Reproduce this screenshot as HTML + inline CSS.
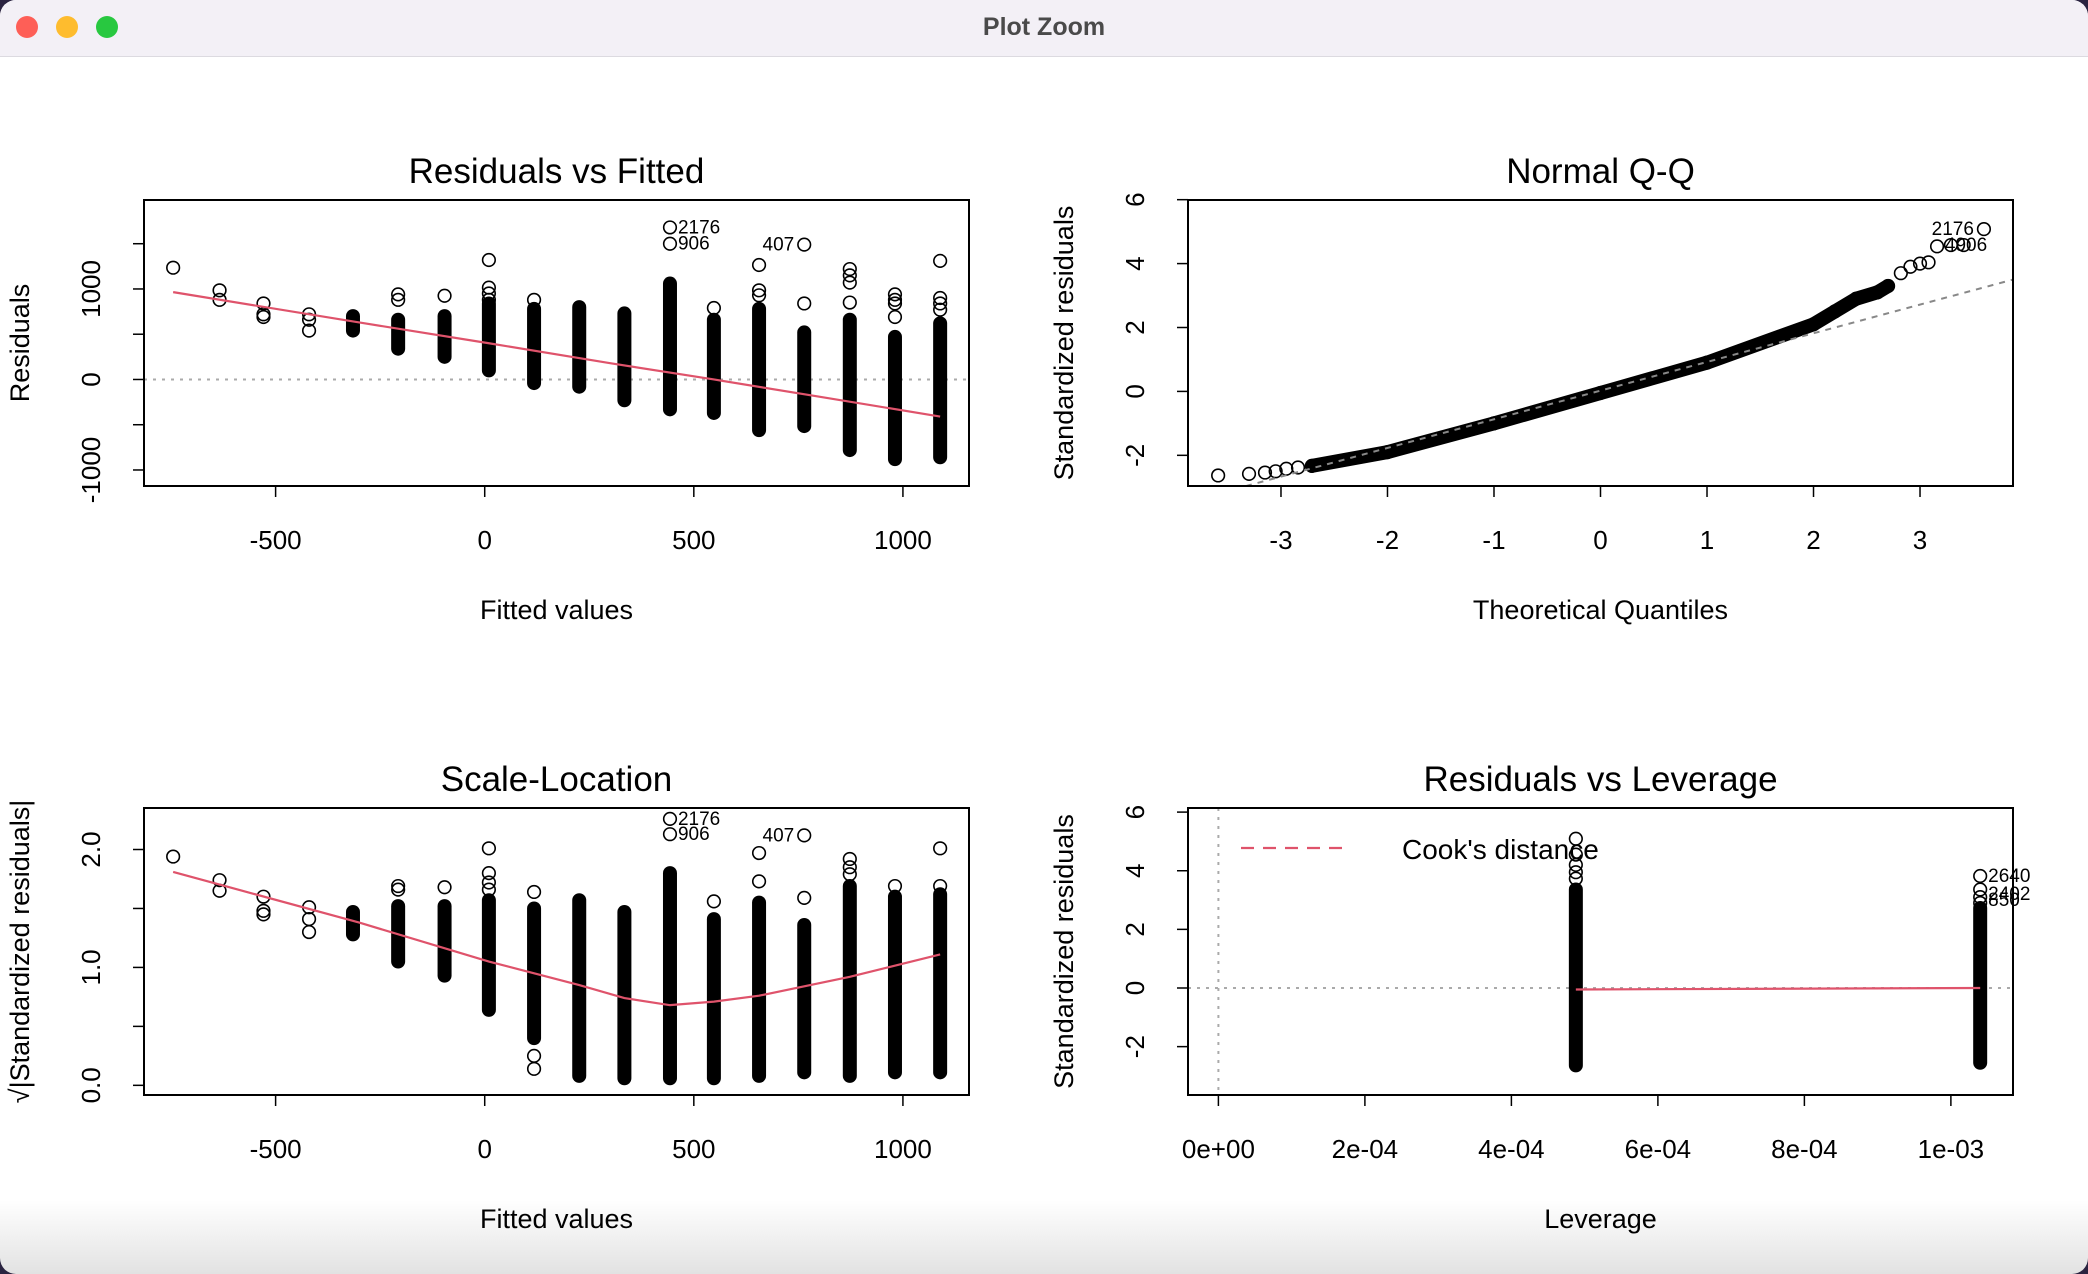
<!DOCTYPE html>
<html><head><meta charset="utf-8"><style>
html,body{margin:0;padding:0;width:2088px;height:1274px;overflow:hidden;background:#2a2340;}
#win{position:absolute;left:0;top:0;width:2088px;height:1274px;background:linear-gradient(to bottom,#fff 0,#fff 1200px,#e2e2e2 1274px);border-radius:16px;overflow:hidden;}
#bar{position:absolute;left:0;top:0;width:2088px;height:56px;background:#f3f0f6;border-bottom:1px solid #dcdae0;font:bold 25px "Liberation Sans",sans-serif;color:#4a4a4a;text-align:center;line-height:54px;}
.dot{position:absolute;top:16px;width:22px;height:22px;border-radius:50%;}
svg{position:absolute;left:0;top:0;}
text{font-family:"Liberation Sans",sans-serif;fill:#000;}
</style></head><body>
<div id="win">
<div id="bar">Plot Zoom
<div class="dot" style="left:16px;background:#fe5f57"></div>
<div class="dot" style="left:56px;background:#febc2e"></div>
<div class="dot" style="left:96px;background:#28c840"></div>
</div>
<svg id="s" width="2088" height="1274"></svg>
</div>
<script>
// ---- Residuals vs Fitted data ----
const rfFitted=[-745,-634,-529,-420,-315,-207,-96,10,118,226,334,443,548,656,764,873,981,1089];
const rfBandLo=[null,null,null,null,540,340,250,100,-40,-80,-230,-330,-370,-560,-515,-780,-880,-860];
const rfBandHi=[null,null,null,null,700,660,700,840,780,800,730,1060,660,780,520,660,470,620];
const rfExtra=[[1235],[985,880],[840,720,690],[720,660,540],[],[940,880],[925],[1320,1015,950,880],[880],[],[],[1680,1500],[790],[1265,985,930],[1490,840],[1220,1150,1070,850],[940,880,840,690],[1310,900,840,770]];
const rfSmoothX=[-745,-300,10,300,548,800,1089];
const rfSmoothY=[965,630,400,180,0,-190,-410];
// ---- Normal Q-Q data ----
const qqTheo=[-3.59,-3.3,-3.15,-3.05,-2.95,-2.84,-2.71,-2.0,-1.0,0,1,2,2.2,2.4,2.6,2.7,2.82,2.91,3.0,3.08,3.16,3.29,3.41,3.6];
const qqSample=[-2.63,-2.58,-2.54,-2.5,-2.42,-2.38,-2.33,-1.9,-1.0,-0.05,0.9,2.1,2.5,2.9,3.1,3.3,3.7,3.9,4.0,4.04,4.54,4.58,4.58,5.08];
const qqLineX=[-3.873,3.873];
const qqLineY=[-3.45,3.5];
// ---- Scale-Location data ----
const slBandLo=[null,null,null,null,1.28,1.05,0.93,0.64,0.4,0.08,0.06,0.06,0.06,0.08,0.11,0.08,0.11,0.11];
const slBandHi=[null,null,null,null,1.47,1.52,1.52,1.57,1.5,1.57,1.47,1.8,1.41,1.55,1.36,1.69,1.6,1.62];
const slExtra=[[1.94],[1.74,1.65],[1.6,1.48,1.45],[1.51,1.41,1.3],[],[1.69,1.66],[1.68],[2.01,1.8,1.72,1.66],[1.64,0.25,0.14],[],[],[2.26,2.13],[1.56],[1.97,1.73],[2.12,1.59],[1.92,1.85,1.79],[1.69],[2.01,1.69]];
const slSmoothX=[-745,-300,10,226,334,443,548,656,873,1089];
const slSmoothY=[1.81,1.38,1.05,0.85,0.74,0.68,0.71,0.76,0.92,1.11];
// ---- Residuals vs Leverage data ----
const lvX=[4.88e-4,1.04e-3];
const lvBandLo=[-2.64,-2.55];
const lvBandHi=[3.36,2.73];
const lvExtra=[[5.09,4.55,4.2,3.95,3.73],[3.82,3.36,3.1,2.9]];
const lvSmoothX=[4.88e-4,1.04e-3];
const lvSmoothY=[-0.05,0];
// ---- ticks ----
const fitTicks=[-500,0,500,1000];
const rfYTicks=[-1000,-500,0,500,1000,1500];
const rfYLabels=["-1000","","0","","1000",""];
const qqXTicks=[-3,-2,-1,0,1,2,3];
const qqYTicks=[-2,0,2,4,6];
const slYTicks=[0,0.5,1,1.5,2];
const slYLabels=["0.0","","1.0","","2.0"];
const lvXTicks=[0,2e-4,4e-4,6e-4,8e-4,1e-3];
const lvXLabels=["0e+00","2e-04","4e-04","6e-04","8e-04","1e-03"];
const lvYTicks=[-2,0,2,4,6];

const NS="http://www.w3.org/2000/svg";
const svg=document.getElementById('s');
function el(t,a,p){const e=document.createElementNS(NS,t);for(const k in a)e.setAttribute(k,a[k]);(p||svg).appendChild(e);return e;}
function panel(o){
  const g=el('g',{});
  
  
  const sx=v=>o.x0+(v-o.xd[0])/(o.xd[1]-o.xd[0])*(o.x1-o.x0);
  const sy=v=>o.y1-(v-o.yd[0])/(o.yd[1]-o.yd[0])*(o.y1-o.y0);
  o.sx=sx;o.sy=sy;o.g=g;
  const t=el('text',{x:(o.x0+o.x1)/2,y:o.y0-17,'text-anchor':'middle','font-size':35},g);t.textContent=o.title;
  
  
  o.xt.forEach((v,i)=>{const x=sx(v);el('line',{x1:x,x2:x,y1:o.y1,y2:o.y1+11,stroke:'#000','stroke-width':1.5},g);
    const l=el('text',{x:x,y:o.y1+63,'text-anchor':'middle','font-size':26},g);l.textContent=o.xl?o.xl[i]:String(v);
    
    });
  o.yt.forEach((v,i)=>{const y=sy(v);el('line',{x1:o.x0,x2:o.x0-11,y1:y,y2:y,stroke:'#000','stroke-width':1.5},g);
    const lx=o.x0-53;const l=el('text',{x:lx,y:y,'text-anchor':'middle','font-size':26,transform:`rotate(-90 ${lx} ${y})`,dy:9},g);l.textContent=o.yl?o.yl[i]:String(v);
    
    });
  const xa=el('text',{x:(o.x0+o.x1)/2,y:o.y1+133,'text-anchor':'middle','font-size':27},g);xa.textContent=o.xlab;
  
  
  const yx=o.x0-115,yy=(o.y0+o.y1)/2;
  const ya=el('text',{x:yx,y:yy,'text-anchor':'middle','font-size':27,transform:`rotate(-90 ${yx} ${yy})`},g);ya.textContent=o.ylab;
  
  
  const cp='cp'+o.name;const c=el('clipPath',{id:cp},g);el('rect',{x:o.x0,y:o.y0,width:o.x1-o.x0,height:o.y1-o.y0},c);
  o.inner=el('g',{'clip-path':`url(#${cp})`},g);
  return o;
}
function frame(o){const r=el('rect',{x:o.x0,y:o.y0,width:o.x1-o.x0,height:o.y1-o.y0,fill:'none',stroke:'#000','stroke-width':2},o.g);
  }
function pt(o,x,y){const c=el('circle',{cx:o.sx(x),cy:o.sy(y),r:6.3,fill:'none',stroke:'#000','stroke-width':1.6},o.inner);
  
  }
function band(o,x,lo,hi){const l=el('line',{x1:o.sx(x),x2:o.sx(x),y1:o.sy(hi),y2:o.sy(lo),stroke:'#000','stroke-width':14,'stroke-linecap':'round'},o.inner);
  
  }
function hline(o,v){el('line',{x1:o.x0,x2:o.x1,y1:o.sy(v),y2:o.sy(v),stroke:'#aaa','stroke-width':2,'stroke-dasharray':'3 6'},o.inner);}
function smooth(o,xs,ys,name){const d=xs.map((x,i)=>(i?'L':'M')+o.sx(x)+','+o.sy(ys[i])).join('');
  const p=el('path',{d:d,fill:'none',stroke:'#df536b','stroke-width':2.2},o.inner);
  }
function lab(o,x,y,s,dx,anchor){const t=el('text',{x:o.sx(x)+dx,y:o.sy(y)+6,'font-size':19,'text-anchor':anchor||'start'},o.g);t.textContent=s;
  }

// Panel 1
const p1=panel({name:'residuals-vs-fitted',x0:144,x1:969,y0:200,y1:486,xd:[-814.7,1158],yd:[-1177,1983],title:'Residuals vs Fitted',xlab:'Fitted values',ylab:'Residuals',xt:fitTicks,yt:rfYTicks,yl:rfYLabels});
hline(p1,0);
rfFitted.forEach((f,i)=>{if(rfBandLo[i]!==null)band(p1,f,rfBandLo[i],rfBandHi[i]);rfExtra[i].forEach(v=>pt(p1,f,v));});
smooth(p1,rfSmoothX,rfSmoothY,'lowess-line');frame(p1);
lab(p1,443,1680,'2176',8);lab(p1,443,1500,'906',8);lab(p1,764,1490,'407',-10,'end');

// Panel 2
const p2=panel({name:'normal-qq',x0:1188,x1:2013,y0:200,y1:486,xd:[-3.873,3.873],yd:[-2.96,5.99],title:'Normal Q-Q',xlab:'Theoretical Quantiles',ylab:'Standardized residuals',xt:qqXTicks,yt:qqYTicks});
{const d=qqTheo.map((x,i)=>(i?'L':'M')+p2.sx(x)+','+p2.sy(qqSample[i])).slice(6,16).join('').replace(/^L/,'M');
 const b=el('path',{d:d,fill:'none',stroke:'#000','stroke-width':14,'stroke-linecap':'round','stroke-linejoin':'round'},p2.inner);
 }
qqTheo.forEach((x,i)=>pt(p2,x,qqSample[i]));
{const l=el('line',{x1:p2.sx(qqLineX[0]),x2:p2.sx(qqLineX[1]),y1:p2.sy(qqLineY[0]),y2:p2.sy(qqLineY[1]),stroke:'#888','stroke-width':2,'stroke-dasharray':'6 6'},p2.inner);
 }
frame(p2);
lab(p2,3.6,5.08,'2176',-10,'end');lab(p2,3.29,4.58,'4906',-6);

// Panel 3
const p3=panel({name:'scale-location',x0:144,x1:969,y0:808,y1:1095,xd:[-814.7,1158],yd:[-0.082,2.352],title:'Scale-Location',xlab:'Fitted values',ylab:'√|Standardized residuals|',xt:fitTicks,yt:slYTicks,yl:slYLabels});
rfFitted.forEach((f,i)=>{if(slBandLo[i]!==null)band(p3,f,slBandLo[i],slBandHi[i]);slExtra[i].forEach(v=>pt(p3,f,v));});
smooth(p3,slSmoothX,slSmoothY,'scale-smooth-line');frame(p3);
lab(p3,443,2.26,'2176',8);lab(p3,443,2.13,'906',8);lab(p3,764,2.12,'407',-10,'end');

// Panel 4
const p4=panel({name:'residuals-vs-leverage',x0:1188,x1:2013,y0:808,y1:1095,xd:[-4.15e-5,1.0848e-3],yd:[-3.65,6.14],title:'Residuals vs Leverage',xlab:'Leverage',ylab:'Standardized residuals',xt:lvXTicks,xl:lvXLabels,yt:lvYTicks});
hline(p4,0);
el('line',{x1:p4.sx(0),x2:p4.sx(0),y1:p4.y0,y2:p4.y1,stroke:'#aaa','stroke-width':2,'stroke-dasharray':'3 6'},p4.inner);
lvX.forEach((x,i)=>{band(p4,x,lvBandLo[i],lvBandHi[i]);lvExtra[i].forEach(v=>pt(p4,x,v));});
smooth(p4,lvSmoothX,lvSmoothY,'leverage-smooth-line');frame(p4);
lab(p4,1.04e-3,3.82,'2640',8);lab(p4,1.04e-3,3.2,'2402',8);lab(p4,1.04e-3,3.0,'850',8);
{const lg=el('g',{});
 el('line',{x1:1241,x2:1349,y1:848,y2:848,stroke:'#df536b','stroke-width':2.2,'stroke-dasharray':'13 9'},lg);
 const t=el('text',{x:1402,y:859,'font-size':28},lg);t.textContent="Cook's distance";}
</script>
</body></html>
